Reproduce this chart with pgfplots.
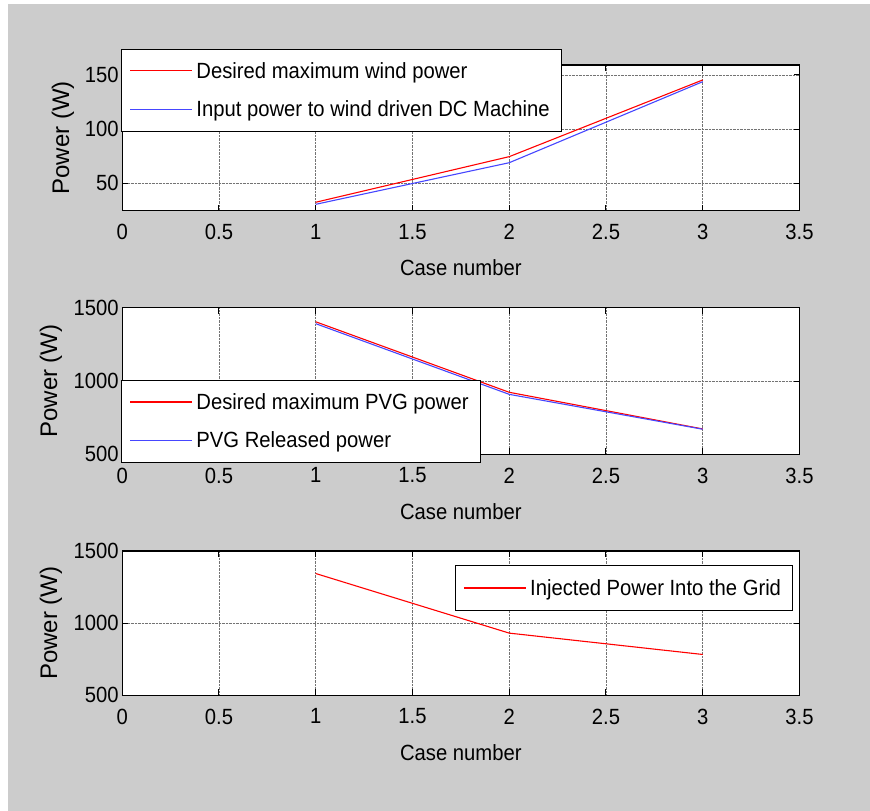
\documentclass[border=0pt]{standalone}
\usepackage{fontspec}
\setmainfont{Liberation Sans}[FakeStretch=0.92]
\newfontfamily\ylf{Liberation Sans}
\usepackage{pgfplots}
\pgfplotsset{compat=1.18}
\definecolor{figgray}{RGB}{204,204,204}
\definecolor{mred}{RGB}{255,0,0}
\definecolor{mblue}{RGB}{70,70,255}
\newcommand\tf{\fontsize{22pt}{26pt}\selectfont}
\pgfplotsset{
  legend image code/.code={\draw[#1, line width=1.2pt] (0pt,0pt) -- (62pt,0pt);},
}
\pgfplotsset{
  mstyle/.style={
    scale only axis,
    width=677.3pt,
    xmin=0, xmax=3.5,
    xtick={0,0.5,1,1.5,2,2.5,3,3.5},
    /pgf/number format/assume math mode=true,
    /pgf/number format/1000 sep={},
    tick label style={font=\tf},
    x tick label style={yshift=-10pt},
    tick align=inside,
    major tick length=6pt,
    tick style={black, line width=1pt},
    axis line style={line width=1.3pt},
    axis background/.style={fill=white},
    grid=major,
    major grid style={densely dotted, black!55, line width=0.7pt},
    xlabel={Case number},
    ylabel={\ylf\fontsize{24pt}{28pt}\selectfont Power (W)},
    xlabel style={font=\tf, at={([yshift=-65pt]axis description cs:0.5,0)}, anchor=base},
    legend cell align=left,
    legend style={font=\tf, draw=black, fill=white,
      nodes={inner sep=3pt}, row sep=15pt, column sep=0.7pt,
      inner xsep=8.5pt, inner ysep=10pt},
  },
}
\begin{document}
\begin{tikzpicture}
\fill[white] (0,0) rectangle (870pt,-811pt);
\fill[figgray] (8pt,-4pt) rectangle (870pt,-811pt);
\useasboundingbox (0,0) rectangle (870pt,-811pt);

% Plot 1
\begin{axis}[mstyle,
  at={(122.2pt,-210.7pt)}, anchor=south west,
  height=145.7pt,
  ymin=24.7, ymax=159.2,
  ytick={50,100,150},
  ylabel style={at={([xshift=-53pt]axis description cs:0,0.5)}, anchor=base},
  legend style={at={(-0.002,1.11)}, anchor=north west},
]
\addplot[color=mred, line width=1.1pt] coordinates {(1,32.5) (2,74.6) (3,145.4)};
\addlegendentry{Desired maximum wind power}
\addplot[color=mblue, line width=1.1pt] coordinates {(1,30.6) (2,69.0) (3,143.8)};
\addlegendentry{Input power to wind driven DC Machine}
\end{axis}

% Plot 2
\begin{axis}[mstyle,
  at={(122.2pt,-454.3pt)}, anchor=south west,
  height=146.6pt,
  ymin=500, ymax=1500,
  ytick={500,1000,1500},
  ylabel style={at={([xshift=-65pt]axis description cs:0,0.5)}, anchor=base},
  legend style={at={(-0.002,0.507)}, anchor=north west},
]
\addplot[color=mred, line width=1.1pt] coordinates {(1,1404) (2,923) (3,673)};
\addlegendentry{Desired maximum PVG power}
\addplot[color=mblue, line width=1.1pt] coordinates {(1,1391) (2,909) (3,671)};
\addlegendentry{PVG Released power}
\end{axis}

% Plot 3
\begin{axis}[mstyle,
  at={(122.2pt,-695.3pt)}, anchor=south west,
  height=144.3pt,
  ymin=500, ymax=1500,
  ytick={500,1000,1500},
  ylabel style={at={([xshift=-65pt]axis description cs:0,0.5)}, anchor=base},
  legend style={at={(0.990,0.903)}, anchor=north east, inner ysep=11pt},
]
\addplot[color=mred, line width=1.1pt] coordinates {(1,1344) (2,931) (3,783)};
\addlegendentry{Injected Power Into the Grid}
\end{axis}
\end{tikzpicture}
\end{document}
